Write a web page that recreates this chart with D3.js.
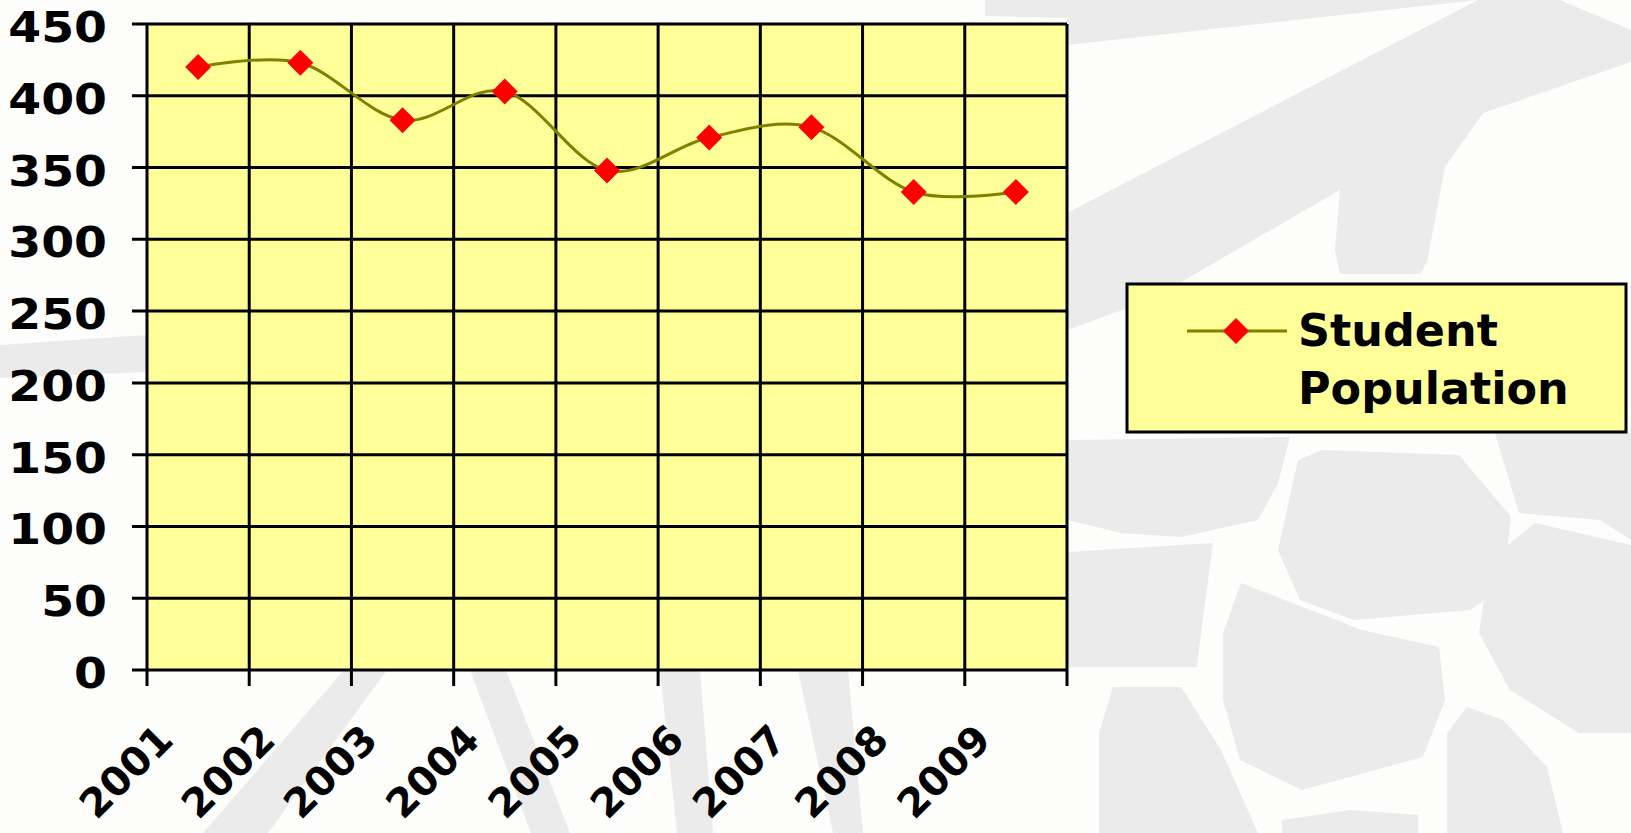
<!DOCTYPE html>
<html>
<head>
<meta charset="utf-8">
<script src="https://cdn.jsdelivr.net/npm/d3@7"></script>
<style>
  html, body { margin: 0; padding: 0; background: #FDFDFB; }
  svg { display: block; }
  text { font-family: "DejaVu Sans", Verdana, sans-serif; font-weight: bold; fill: #000; }
</style>
</head>
<body>
<script>
// ---- data ----
const years = ["2001", "2002", "2003", "2004", "2005", "2006", "2007", "2008", "2009"];
const studentPopulation = [420, 423, 383, 403, 348, 371, 378, 333, 333];
const yTicks = [0, 50, 100, 150, 200, 250, 300, 350, 400, 450];
const seriesName = ["Student", "Population"];

// ---- layout ----
const W = 1631, H = 833;
const plot = { left: 147, right: 1067, top: 24, bottom: 670 };

const svg = d3.select("body").append("svg").attr("width", W).attr("height", H);
svg.append("rect").attr("width", W).attr("height", H).attr("fill", "#FDFDFB");

// ---- decorative background (light grey shapes) ----
const deco = [
  [[985,0],[1478,0],[1067,45],[1067,18],[985,16]],
  [[1067,213],[1478,0],[1560,0],[1631,30],[1631,62],[1483,113],[1445,167],[1427,262],[1420,274],[1340,274],[1335,250],[1340,190],[1150,300],[1067,330]],
  [[0,345],[147,335],[147,372],[0,378]],
  [[203,833],[268,833],[387,670],[344,670]],
  [[470,670],[506,670],[570,833],[531,833]],
  [[660,670],[700,670],[713,833],[677,833]],
  [[798,670],[848,670],[863,833],[833,833]],
  [[1068,440],[1290,437],[1278,483],[1258,520],[1181,537],[1121,533],[1068,520]],
  [[1298,460],[1322,450],[1459,455],[1511,517],[1503,587],[1470,610],[1354,620],[1300,600],[1278,550]],
  [[1495,433],[1631,433],[1631,540],[1600,520],[1519,513]],
  [[1535,523],[1631,545],[1631,733],[1579,733],[1510,690],[1479,633],[1490,560]],
  [[1068,552],[1213,543],[1200,640],[1197,667],[1068,667]],
  [[1241,583],[1362,630],[1439,647],[1445,700],[1423,757],[1302,790],[1240,760],[1223,700],[1223,633]],
  [[1113,687],[1181,687],[1221,750],[1258,833],[1099,833],[1099,733]],
  [[1467,707],[1503,720],[1547,767],[1563,833],[1447,833],[1447,733]],
  [[1282,820],[1350,810],[1418,815],[1418,833],[1282,833]]
];
svg.append("g").selectAll("polygon").data(deco).join("polygon")
  .attr("points", d => d.map(p => p.join(",")).join(" "))
  .attr("fill", "#EBEBEB");

// ---- scales ----
const x = d3.scaleBand().domain(years).range([plot.left, plot.right]).padding(0);
const y = d3.scaleLinear().domain([0, 450]).range([plot.bottom, plot.top]);

// plot area
svg.append("rect")
  .attr("x", plot.left).attr("y", plot.top)
  .attr("width", plot.right - plot.left).attr("height", plot.bottom - plot.top)
  .attr("fill", "#FFFF99");

// horizontal gridlines
svg.append("g").selectAll("line").data(yTicks).join("line")
  .attr("x1", plot.left - 15).attr("x2", plot.right)
  .attr("y1", d => y(d)).attr("y2", d => y(d))
  .attr("stroke", "#000").attr("stroke-width", 3);

// vertical gridlines / ticks at band boundaries
const bounds = years.map(d => x(d)).concat([plot.right]);
svg.append("g").selectAll("line").data(bounds).join("line")
  .attr("x1", d => d).attr("x2", d => d)
  .attr("y1", plot.top).attr("y2", plot.bottom + 16)
  .attr("stroke", "#000").attr("stroke-width", 3);

// y tick labels
svg.append("g").selectAll("text").data(yTicks).join("text")
  .attr("transform", d => `translate(107,${y(d) + 18}) scale(1.1,1)`)
  .attr("text-anchor", "end")
  .attr("font-size", 43)
  .text(d => d);

// x tick labels (rotated)
svg.append("g").selectAll("text").data(years).join("text")
  .attr("transform", d => `translate(${x(d) + x.bandwidth() / 2 - 23},742) rotate(-45)`)
  .attr("text-anchor", "end")
  .attr("font-size", 40)
  .text(d => d);

// smoothed line
const pts = years.map((d, i) => [x(d) + x.bandwidth() / 2, y(studentPopulation[i])]);
svg.append("path")
  .attr("d", d3.line().curve(d3.curveCatmullRom.alpha(0))(pts))
  .attr("fill", "none").attr("stroke", "#808000").attr("stroke-width", 3);

// diamond markers
const diamond = "M0,-13L13,0L0,13L-13,0Z";
svg.append("g").selectAll("path").data(pts).join("path")
  .attr("d", diamond)
  .attr("transform", d => `translate(${d[0]},${d[1]})`)
  .attr("fill", "#FF0000");

// ---- legend ----
const lg = svg.append("g");
lg.append("rect").attr("x", 1127).attr("y", 284).attr("width", 499).attr("height", 148)
  .attr("fill", "#FFFF99").attr("stroke", "#000").attr("stroke-width", 3);
lg.append("line").attr("x1", 1187).attr("x2", 1287).attr("y1", 331).attr("y2", 331)
  .attr("stroke", "#808000").attr("stroke-width", 3);
lg.append("path").attr("d", diamond).attr("transform", "translate(1236,331)").attr("fill", "#FF0000");
lg.selectAll("text").data(seriesName).join("text")
  .attr("x", 1298).attr("y", (d, i) => 346 + i * 58)
  .attr("font-size", 44.5)
  .text(d => d);
</script>
</body>
</html>
